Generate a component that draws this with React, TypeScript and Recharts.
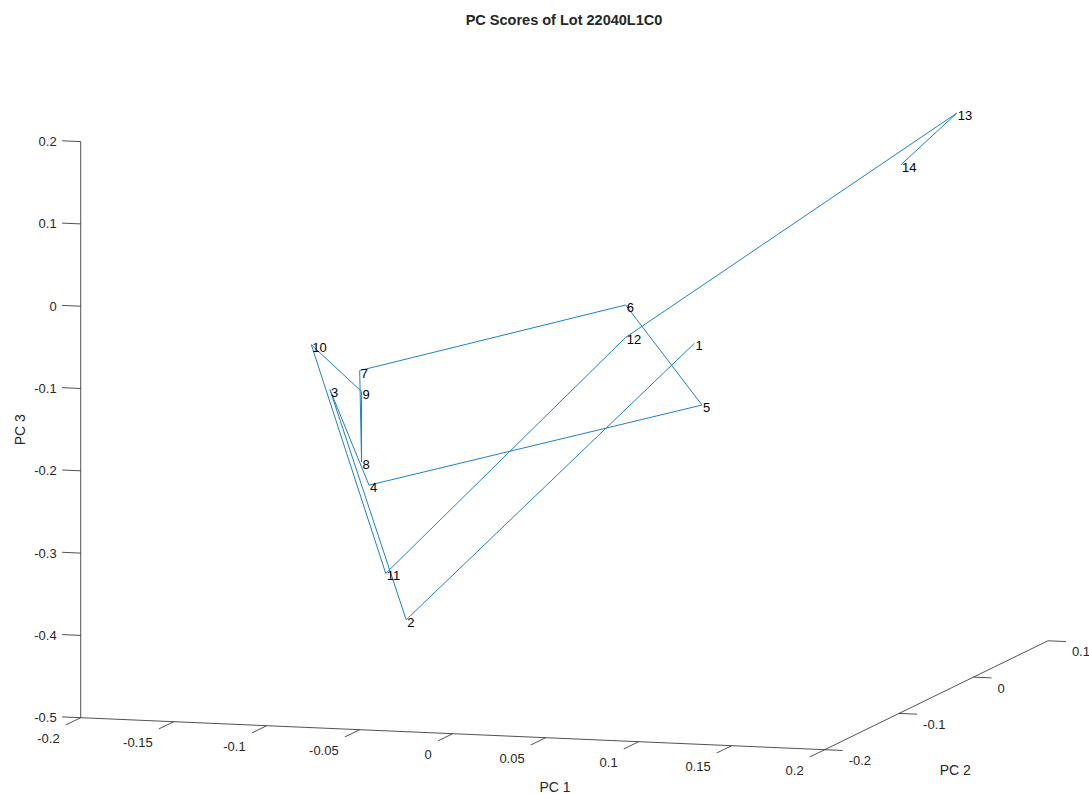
import React from 'react';
import { ScatterChart, Scatter, XAxis, YAxis, ReferenceLine } from 'recharts';

document.body.style.margin = '0';

// PC scores for each sample, in plot order (1 -> 14)
const sampleLabels = ['1', '2', '3', '4', '5', '6', '7', '8', '9', '10', '11', '12', '13', '14'];
const pc1Scores = [0.070, -0.065, -0.154, -0.093, 0.102, -0.007, -0.142, -0.121, -0.129, -0.172, -0.092, 0.005, 0.159, 0.137];
const pc2Scores = [-0.05, -0.1, 0.02, -0.08, -0.12, 0.05, 0.03, -0.02, 0.0, 0.04, -0.06, 0.02, 0.08, 0.06];
const pc3Scores = [-0.085, -0.412, -0.194, -0.26, -0.126, -0.09, -0.174, -0.261, -0.185, -0.15, -0.376, -0.115, 0.146, 0.09];

const pc1Ticks = [-0.2, -0.15, -0.1, -0.05, 0, 0.05, 0.1, 0.15, 0.2];
const pc1TickLabels = ['-0.2', '-0.15', '-0.1', '-0.05', '0', '0.05', '0.1', '0.15', '0.2'];
const pc2Ticks = [-0.2, -0.1, 0, 0.1];
const pc2TickLabels = ['-0.2', '-0.1', '0', '0.1'];
const pc3Ticks = [-0.5, -0.4, -0.3, -0.2, -0.1, 0, 0.1, 0.2];
const pc3TickLabels = ['-0.5', '-0.4', '-0.3', '-0.2', '-0.1', '0', '0.1', '0.2'];

const W = 1089;
const H = 794;
const BLUE = '#1f80c8';
const AXIS = '#262626';
const FONT = "'Liberation Sans', Arial, Helvetica, sans-serif";

// 3-D view: where the low corner of the box lands, and the step per unit of each PC
const LO = [-0.2, -0.2, -0.5];
const HI = [0.2, 0.1, 0.2];
const ORIGIN = { x: 80.7, y: 717.7 };
const E1 = { x: 1860, y: 80 };
const E2 = { x: 744, y: -363 };
const E3 = { x: 0, y: -823 };

function project(p1: number, p2: number, p3: number) {
  const u = p1 - LO[0];
  const v = p2 - LO[1];
  const w = p3 - LO[2];
  return {
    x: ORIGIN.x + u * E1.x + v * E2.x + w * E3.x,
    y: ORIGIN.y + u * E1.y + v * E2.y + w * E3.y,
  };
}

const scorePoints = sampleLabels.map((label, i) => ({
  ...project(pc1Scores[i], pc2Scores[i], pc3Scores[i]),
  label,
}));

type TextMark = {
  x: number;
  y: number;
  text: string;
  dx: number;
  dy: number;
  anchor: 'start' | 'middle' | 'end';
  size: number;
  bold?: boolean;
  angle?: number;
};

const tickMarks: TextMark[] = [
  ...pc1Ticks.map((t, i) => ({ ...project(t, LO[1], LO[2]), text: pc1TickLabels[i], dx: -21, dy: 21, anchor: 'end' as const, size: 13 })),
  ...pc2Ticks.map((t, i) => ({ ...project(HI[0], t, LO[2]), text: pc2TickLabels[i], dx: 24, dy: 11, anchor: 'start' as const, size: 13 })),
  ...pc3Ticks.map((t, i) => ({ ...project(LO[0], LO[1], t), text: pc3TickLabels[i], dx: -24, dy: 0, anchor: 'end' as const, size: 13 })),
];

const titleMarks: TextMark[] = [
  { ...project(0.055, LO[1], LO[2]), text: 'PC 1', dx: 0, dy: 49, anchor: 'middle', size: 14 },
  { ...project(HI[0], -0.05, LO[2]), text: 'PC 2', dx: 19, dy: 75, anchor: 'middle', size: 14 },
  { ...project(LO[0], LO[1], -0.15), text: 'PC 3', dx: -61, dy: 0, anchor: 'middle', size: 14, angle: -90 },
  { x: 564, y: 20, text: 'PC Scores of Lot 22040L1C0', dx: 0, dy: 0, anchor: 'middle', size: 14.5, bold: true },
];

function TextShape(props: any) {
  const { cx, cy, payload } = props;
  const x = cx + payload.dx;
  const y = cy + payload.dy;
  return (
    <text
      x={x}
      y={y}
      textAnchor={payload.anchor}
      dominantBaseline="central"
      fontSize={payload.size}
      fontWeight={payload.bold ? 'bold' : 'normal'}
      fontFamily={FONT}
      fill={AXIS}
      transform={payload.angle ? `rotate(${payload.angle} ${x} ${y})` : undefined}
    >
      {payload.text}
    </text>
  );
}

function SampleLabel(props: any) {
  const { cx, cy, payload } = props;
  return (
    <text x={cx + 1} y={cy + 2.5} dominantBaseline="central" fontSize={13} fontFamily={FONT} fill="#000">
      {payload.label}
    </text>
  );
}

type Seg = [{ x: number; y: number }, { x: number; y: number }];

const axisSegments: Seg[] = [
  [project(LO[0], LO[1], LO[2]), project(HI[0], LO[1], LO[2])],
  [project(HI[0], LO[1], LO[2]), project(HI[0], HI[1], LO[2])],
  [project(LO[0], LO[1], LO[2]), project(LO[0], LO[1], HI[2])],
  ...pc1Ticks.map((t) => [project(t, LO[1], LO[2]), project(t, LO[1] - 0.02, LO[2])] as Seg),
  ...pc2Ticks.map((t) => [project(HI[0], t, LO[2]), project(HI[0] + 0.0097, t, LO[2])] as Seg),
  ...pc3Ticks.map((t) => [project(LO[0], LO[1], t), project(LO[0] - 0.01, LO[1], t)] as Seg),
];

export default function App() {
  return (
    <div style={{ width: W, height: H, background: '#fff' }}>
      <ScatterChart width={W} height={H} margin={{ top: 0, right: 0, bottom: 0, left: 0 }}>
        <XAxis type="number" dataKey="x" domain={[0, W]} hide allowDataOverflow />
        <YAxis type="number" dataKey="y" domain={[0, H]} reversed hide allowDataOverflow />
        {axisSegments.map((seg, i) => (
          <ReferenceLine key={i} segment={seg} stroke={AXIS} strokeWidth={0.8} ifOverflow="visible" />
        ))}
        <Scatter data={tickMarks} shape={TextShape} isAnimationActive={false} />
        <Scatter data={titleMarks} shape={TextShape} isAnimationActive={false} />
        <Scatter
          data={scorePoints}
          line={{ stroke: BLUE, strokeWidth: 1 }}
          shape={SampleLabel}
          isAnimationActive={false}
        />
      </ScatterChart>
    </div>
  );
}
